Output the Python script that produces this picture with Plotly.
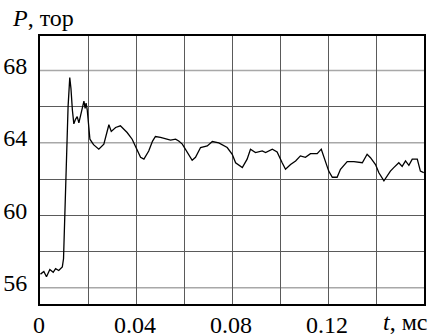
import plotly.graph_objects as go

# Data
t_ms = [0.0002, 0.0016, 0.0027, 0.0041, 0.0055, 0.0065, 0.0078, 0.0093, 0.0098, 0.0104,
        0.0108, 0.0113, 0.0117, 0.0124, 0.0129, 0.0135, 0.0141, 0.0148, 0.0155, 0.0162,
        0.0171, 0.0183, 0.0188, 0.0192, 0.0197, 0.0203, 0.0208, 0.0223, 0.0245, 0.0266,
        0.0277, 0.0287, 0.0297, 0.0315, 0.0335, 0.0349, 0.0363, 0.0384, 0.0405, 0.0419,
        0.0433, 0.0453, 0.0469, 0.0481, 0.0502, 0.0516, 0.0544, 0.0565, 0.0578, 0.0593,
        0.0613, 0.0634, 0.0648, 0.0669, 0.0697, 0.0718, 0.0745, 0.0780, 0.0801, 0.0815,
        0.0843, 0.0863, 0.0877, 0.0898, 0.0926, 0.0940, 0.0968, 0.0988, 0.1009, 0.1023,
        0.1044, 0.1065, 0.1085, 0.1106, 0.1127, 0.1155, 0.1172, 0.1183, 0.1203, 0.1218,
        0.1238, 0.1252, 0.1280, 0.1308, 0.1343, 0.1363, 0.1377, 0.1398, 0.1412, 0.1433,
        0.1447, 0.1460, 0.1474, 0.1495, 0.1509, 0.1523, 0.1537, 0.1551, 0.1572, 0.1585,
        0.1599]
p_torr = [56.75, 56.9, 56.6, 57.0, 56.85, 57.05, 56.95, 57.15, 57.6, 60.0,
          62.5, 64.5, 66.0, 67.6, 67.0, 65.8, 65.05, 65.3, 65.45, 65.1,
          65.6, 66.3, 65.9, 66.2, 65.8, 64.6, 64.2, 63.9, 63.65, 63.93,
          64.5, 65.0, 64.63, 64.85, 64.94, 64.76, 64.57, 64.2, 63.55, 63.2,
          63.1, 63.55, 64.1, 64.35, 64.3, 64.25, 64.15, 64.2, 64.1, 63.93,
          63.46, 63.04, 63.2, 63.74, 63.83, 64.07, 64.0, 63.74, 63.37, 62.9,
          62.63, 63.1, 63.65, 63.46, 63.55, 63.46, 63.65, 63.5, 62.9, 62.54,
          62.8, 63.0, 63.28, 63.2, 63.4, 63.4, 63.65, 63.18, 62.44, 62.1,
          62.1, 62.54, 62.96, 62.96, 62.9, 63.37, 63.18, 62.8, 62.35, 61.9,
          62.17, 62.44, 62.63, 62.9, 62.7, 63.0, 62.76, 63.1, 63.1, 62.44,
          62.35]

x_ticks = [0, 0.04, 0.08, 0.12]
x_tick_text = ["0", "0.04", "0.08", "0.12"]
x_grid = [0.02, 0.04, 0.06, 0.08, 0.10, 0.12, 0.14]
y_ticks = [56, 60, 64, 68]
y_tick_text = ["56", "60", "64", "68"]
y_grid_dark = [58, 60, 62, 66]
y_grid_light = [56, 64, 68]

FONT = "Liberation Serif"
FS = 24

fig = go.Figure()
fig.add_trace(go.Scatter(x=t_ms, y=p_torr, mode="lines",
                         line=dict(color="black", width=1.3), showlegend=False))

for yv in y_grid_light:
    fig.add_shape(type="line", xref="x domain", yref="y", x0=0, x1=1, y0=yv, y1=yv,
                  line=dict(color="#a8a8a8", width=1.5), layer="below")

fig.update_layout(
    width=431, height=336,
    margin=dict(l=40, r=7, t=36, b=32),
    paper_bgcolor="white", plot_bgcolor="white",
    font=dict(family=FONT, size=FS, color="black"),
    xaxis=dict(range=[0, 0.16], tickvals=x_ticks, ticktext=x_tick_text,
               showgrid=False, zeroline=False, showline=True, mirror=True,
               linecolor="black", linewidth=2, ticks="", ticklabelstandoff=-2,
               automargin=False, ticklabelshift=-1,
               tickfont=dict(family=FONT, size=FS, color="black"),
               minor=dict(tickvals=x_grid, showgrid=True, gridcolor="#5a5a5a", gridwidth=1)),
    yaxis=dict(range=[55.1, 69.9], tickvals=y_ticks, ticktext=y_tick_text,
               showgrid=False, zeroline=False, showline=True, mirror=True,
               linecolor="black", linewidth=2, ticks="", ticklabelstandoff=6,
               automargin=False, ticklabelshift=-5,
               tickfont=dict(family=FONT, size=FS, color="black"),
               minor=dict(tickvals=y_grid_dark, showgrid=True, gridcolor="#5a5a5a", gridwidth=1)),
    annotations=[
        dict(text="<i>P</i>, тор", xref="paper", yref="paper", x=-0.078, y=1.067,
             xanchor="left", yanchor="middle", showarrow=False,
             font=dict(family=FONT, size=FS, color="black")),
        dict(text="<i>t</i>, мс", xref="paper", yref="paper", x=1.0156, y=-0.068,
             xanchor="right", yanchor="middle", showarrow=False,
             font=dict(family=FONT, size=FS, color="black")),
    ],
)

fig.write_html("out.html", config={"displayModeBar": False},
               post_script="document.body.style.margin='0';document.body.style.padding='0';")
